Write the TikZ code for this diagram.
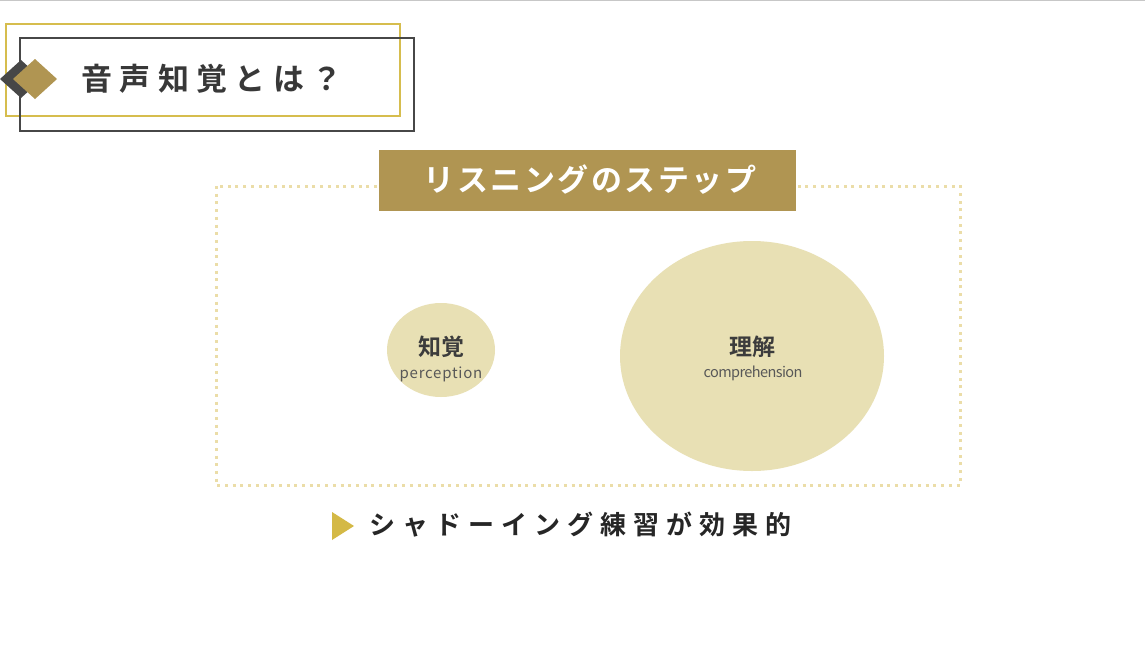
\documentclass[tikz,border=0pt]{standalone}
\usepackage{fontspec}
\newfontfamily\cjk{Noto Sans CJK JP}[BoldFont={Noto Sans CJK JP Bold}]
\newfontfamily\cjkmed{Noto Sans CJK JP Medium}
\definecolor{goldbox}{HTML}{B09552}
\definecolor{goldline}{HTML}{D6BD4E}
\definecolor{darkline}{HTML}{474747}
\definecolor{ellfill}{HTML}{E8E0B4}
\definecolor{dotcol}{HTML}{EBDDA8}
\definecolor{tri}{HTML}{D4B946}
\definecolor{txt}{HTML}{3C3C3C}
\definecolor{subtxt}{HTML}{585858}
\tikzset{
  goldrect/.style={draw=goldline,line width=1.6pt},
  darkrect/.style={draw=darkline,line width=1.6pt},
  bubble/.style={fill=ellfill,draw=none},
  dotbox/.style={draw=dotcol,line width=3pt,dash pattern=on 3pt off 4.7pt},
  label/.style={inner sep=0pt,text=txt},
}
\begin{document}
\begin{tikzpicture}[x=1pt,y=-1pt]
\useasboundingbox (0,0) rectangle (1145,648);
\fill[white] (0,0) rectangle (1145,648);
\draw[draw=black!22,line width=1pt] (0,0.5) -- (1145,0.5);
% heading frames
\draw[goldrect] (6,24) rectangle (400,116);
\draw[darkrect] (20,38) rectangle (414,131);
\fill[darkline] (0,79) -- (21,60) -- (42,79) -- (21,98) -- cycle;
\fill[goldbox] (13,79) -- (35,59) -- (57,79) -- (35,99) -- cycle;
\node[label,anchor=west,text=black!78] (title) at (81,79) {\cjk\bfseries\fontsize{31}{31}\selectfont\addfontfeature{LetterSpace=24}音声知覚とは？};
% dotted frame
\draw[dotbox] (216,186) rectangle (960,485);
% banner
\fill[goldbox] (379,150) rectangle (796,211);
\node[label,text=white] (banner) at (590,180) {\cjk\bfseries\fontsize{31}{31}\selectfont\addfontfeature{LetterSpace=8}リスニングのステップ};
% bubbles
\fill[bubble] (441,350) ellipse [x radius=54, y radius=47];
\fill[bubble] (752,356) ellipse [x radius=132, y radius=115];
\node[label] (chikaku) at (441,347) {\cjk\bfseries\fontsize{23}{23}\selectfont 知覚};
\node[label,text=subtxt] (perc) at (441,374) {\cjk\fontsize{15}{15}\selectfont\addfontfeature{LetterSpace=5}perception};
\node[label] (rikai) at (752,347) {\cjk\bfseries\fontsize{23}{23}\selectfont 理解};
\node[label,text=subtxt] (comp) at (753,373) {\cjk\fontsize{14.5}{14.5}\selectfont\addfontfeature{LetterSpace=-4}comprehension};
% bottom line
\fill[tri] (332,512) -- (354,526) -- (332,540) -- cycle;
\node[label,anchor=west,text=black!85] (shadow) at (369,525) {\cjk\bfseries\fontsize{26}{26}\selectfont\addfontfeature{LetterSpace=27}シャドーイング練習が効果的};
\end{tikzpicture}
\end{document}
